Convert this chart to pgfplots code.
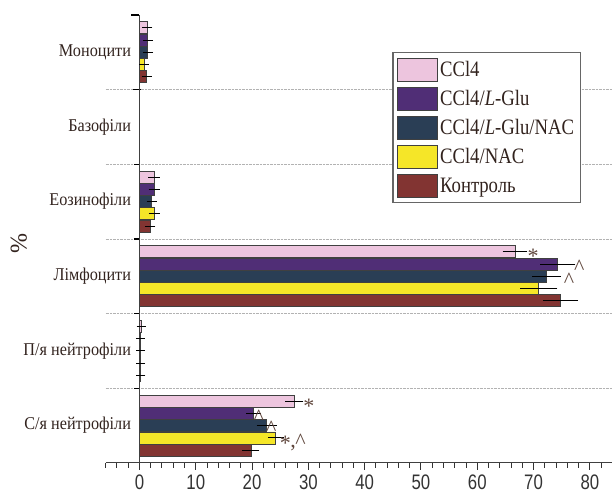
\documentclass[border=0pt]{standalone}
\usepackage{fontspec}
\setmainfont{Liberation Serif}
\newfontfamily\catfont[FakeStretch=0.9]{Liberation Serif}
\newfontfamily\legfont[FakeStretch=0.85]{Liberation Serif}
\newfontfamily\tickfont[FakeStretch=0.8]{Liberation Sans}
\usepackage{pgfplots}
\pgfplotsset{compat=1.18}
\definecolor{cpink}{RGB}{237,197,222}
\definecolor{cpurple}{RGB}{80,46,118}
\definecolor{cnavy}{RGB}{42,62,85}
\definecolor{cyellow}{RGB}{245,230,40}
\definecolor{cred}{RGB}{130,52,50}
\definecolor{textcol}{RGB}{50,35,30}
\definecolor{annot}{RGB}{95,70,60}
\pgfplotsset{eb/.style={draw=black!75, line width=0.9pt,
    error bars/.cd, x dir=both, x explicit,
    error bar style={black, line width=1pt},
    error mark options={black, line width=1pt, mark size=4pt}}}
\begin{document}
\begin{tikzpicture}
\begin{axis}[
  x=5.63pt, y=74.67pt,
  xmin=-6, xmax=84, ymin=-0.5, ymax=5.5,
  axis x line=bottom, axis y line=middle,
  axis line style={-, black!75, line width=1pt},
  hide obscured x ticks=false, hide obscured y ticks=false,
  xtick={0,10,...,80}, minor xtick={-6,-4,...,84},
  xtick align=outside,
  major tick length=7pt, minor tick length=5pt,
  major x tick style={black!80, line width=1pt},
  minor x tick style={black!80, line width=1pt},
  ytick={0,1,2,3,4,5},
  yticklabels={С/я нейтрофіли, П/я нейтрофіли, Лімфоцити, Еозинофіли, Базофіли, Моноцити},
  major y tick style={draw=none},
  minor ytick={0.5,1.5,...,4.5},
  ytick align=center,
  minor y tick style={black, line width=1.2pt, shorten <=-1.5pt, shorten >=-1.5pt},
  yminorgrids=true,
  minor y grid style={densely dotted, black!30, line width=0.8pt},
  extra y ticks={5.5},
  extra y tick labels={},
  extra y tick style={grid=none, major y tick style={draw=black, line width=1.2pt}, major tick length=8pt},
  yticklabel style={font=\catfont\fontsize{18}{20}\selectfont, text=textcol, xshift=2pt},
  xticklabel style={font=\tickfont\fontsize{21}{21}\selectfont, text=black!80, yshift=-1pt},
  /pgf/number format/assume math mode=true,
  ylabel={\%},
  every axis y label/.style={at={(axis description cs:-0.1716,0.491)}, rotate=90, anchor=center, font=\fontsize{24}{24}\selectfont, text=textcol},
  xbar=0.3pt, bar width=12pt,
  legend style={at={(axis description cs:0.566,0.917)}, anchor=north west, draw=black!60, line width=1.2pt,
    font=\legfont\fontsize{22}{23}\selectfont, text=textcol, row sep=5pt, inner xsep=4pt, inner ysep=5pt,
    cells={anchor=west}},
  reverse legend,
  legend image code/.code={\draw[#1, line width=1pt] (0pt,-11.5pt) rectangle (40pt,11.5pt);},
]
% Контроль
\addplot[fill=cred, eb] coordinates {
  (19.8,0) +- (0.8,0)
  (0.25,1) +- (0.1,0)
  (74.8,2) +- (2.4,0)
  (1.9,3) +- (0.2,0)
  (1.3,5) +- (0.2,0)
};
% CCl4/NAC
\addplot[fill=cyellow, eb] coordinates {
  (24.2,0) +- (0.7,0)
  (0.2,1) +- (0.1,0)
  (70.9,2) +- (2.6,0)
  (2.6,3) +- (0.25,0)
  (0.8,5) +- (0.15,0)
};
% CCl4/L-Glu/NAC
\addplot[fill=cnavy, eb] coordinates {
  (22.6,0) +- (1.1,0)
  (0.2,1) +- (0.1,0)
  (72.3,2) +- (1.8,0)
  (2.2,3) +- (0.2,0)
  (1.5,5) +- (0.2,0)
};
% CCl4/L-Glu
\addplot[fill=cpurple, eb] coordinates {
  (20.2,0) +- (0.6,0)
  (0.15,1) +- (0.1,0)
  (74.3,2) +- (2.4,0)
  (2.6,3) +- (0.25,0)
  (1.5,5) +- (0.2,0)
};
% CCl4
\addplot[fill=cpink, eb] coordinates {
  (27.5,0) +- (0.9,0)
  (0.3,1) +- (0.1,0)
  (66.7,2) +- (1.5,0)
  (2.6,3) +- (0.3,0)
  (1.4,5) +- (0.2,0)
};
\legend{Контроль, CCl4/NAC, CCl4/\textit{L}-Glu/NAC, CCl4/\textit{L}-Glu, CCl4}
\coordinate (O) at (axis cs:-6,-0.5);
% significance marks
\tikzset{ann/.style={text=annot, font=\fontsize{22}{22}\selectfont, inner sep=0pt}}
\node[ann, yshift=24.6pt-5pt] at (axis cs:69.9,2) {*};
\node[ann, yshift=12.3pt-3pt] at (axis cs:78.1,2) {\textasciicircum};
\node[ann, yshift=0pt-4pt] at (axis cs:76.3,2) {\textasciicircum};
\node[ann, yshift=24.6pt-5pt] at (axis cs:30.1,0) {*};
\node[ann, yshift=12.3pt-4pt] at (axis cs:21.2,0) {\textasciicircum};
\node[ann, yshift=0pt-3pt] at (axis cs:23.4,0) {\textasciicircum};
\node[ann, yshift=-12.3pt-5pt] at (axis cs:25.9,0) {*};
\node[ann, yshift=-12.3pt-10pt] at (axis cs:27.3,0) {,};
\node[ann, yshift=-12.3pt-3pt] at (axis cs:28.6,0) {\textasciicircum};
\end{axis}
\pgfresetboundingbox
\path[use as bounding box] ([shift={(-105.7pt,-31pt)}]O) rectangle ([shift={(506.3pt,463pt)}]O);
\end{tikzpicture}
\end{document}
